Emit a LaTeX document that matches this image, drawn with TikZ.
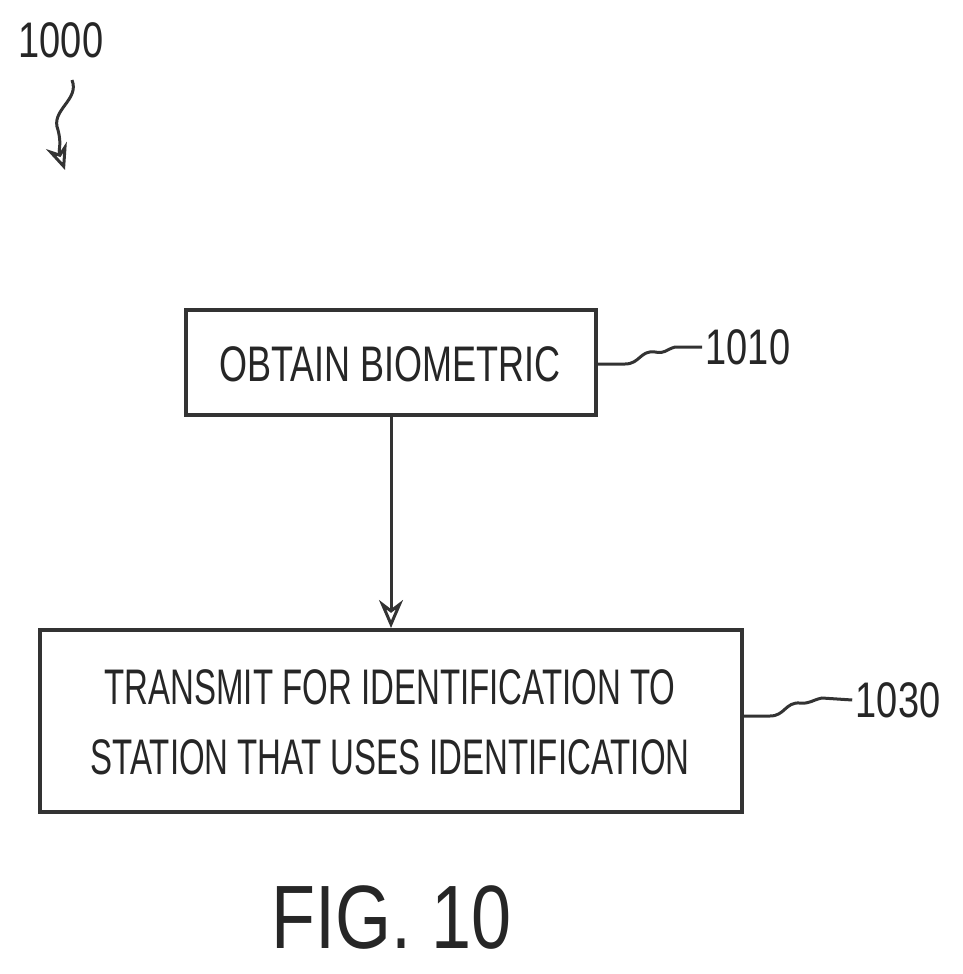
\documentclass[tikz,border=0pt]{standalone}
\usepackage{fontspec}
\setmainfont{Liberation Sans}
\usetikzlibrary{arrows.meta}
\begin{document}
\begin{tikzpicture}[x=1pt,y=-1pt,
  box/.style={draw=black!80,line width=4pt},
  txt/.style={font=\fontsize{50}{70}\selectfont,align=center,text=black!85},
  lbl/.style={font=\fontsize{50}{50}\selectfont,text=black!85},
  ln/.style={draw=black!80,line width=3pt}]
\useasboundingbox (0,0) rectangle (962,974);
\node[box,minimum width=410,minimum height=105] (b1) at (391,362) {};
\node[txt] (t1) at (390,364) {\scalebox{0.72}[1]{OBTAIN BIOMETRIC}};
\node[box,minimum width=702,minimum height=182] (b2) at (391,721) {};
\node[txt] (t2) at (390,722) {\scalebox{0.66}[1]{TRANSMIT FOR IDENTIFICATION TO}\\\scalebox{0.66}[1]{STATION THAT USES IDENTIFICATION}};
\draw[ln,-{Stealth[length=28,width=24,open]}] (b1.south) -- (b2.north);
\node[lbl] (l1) at (748,347) {\scalebox{0.76}[1]{1010}};
\draw[ln] (b1.east |- 0,364) -- (625,364) .. controls (640,364) and (640,350) .. (655,352) .. controls (665,354) and (665,350) .. (675,347) -- (l1.west);
\node[lbl] (l2) at (898,700) {\scalebox{0.76}[1]{1030}};
\draw[ln] (b2.east |- 0,716) -- (770,716) .. controls (785,716) and (785,702) .. (800,703) .. controls (810,704) and (812,700) .. (822,698) -- (l2.west);
\node[lbl] (l0) at (61,40) {\scalebox{0.76}[1]{1000}};
\coordinate (a0) at (65,170);
\draw[ln,-{Stealth[length=26,width=22,open]}] (72,80) .. controls (80,100) and (50,110) .. (58,130) .. controls (62,145) and (58,150) .. (a0);
\node[font=\fontsize{90}{100}\selectfont,text=black!85] (fig) at (392,918) {\scalebox{0.8}[1]{FIG. 10}};
\end{tikzpicture}
\end{document}
